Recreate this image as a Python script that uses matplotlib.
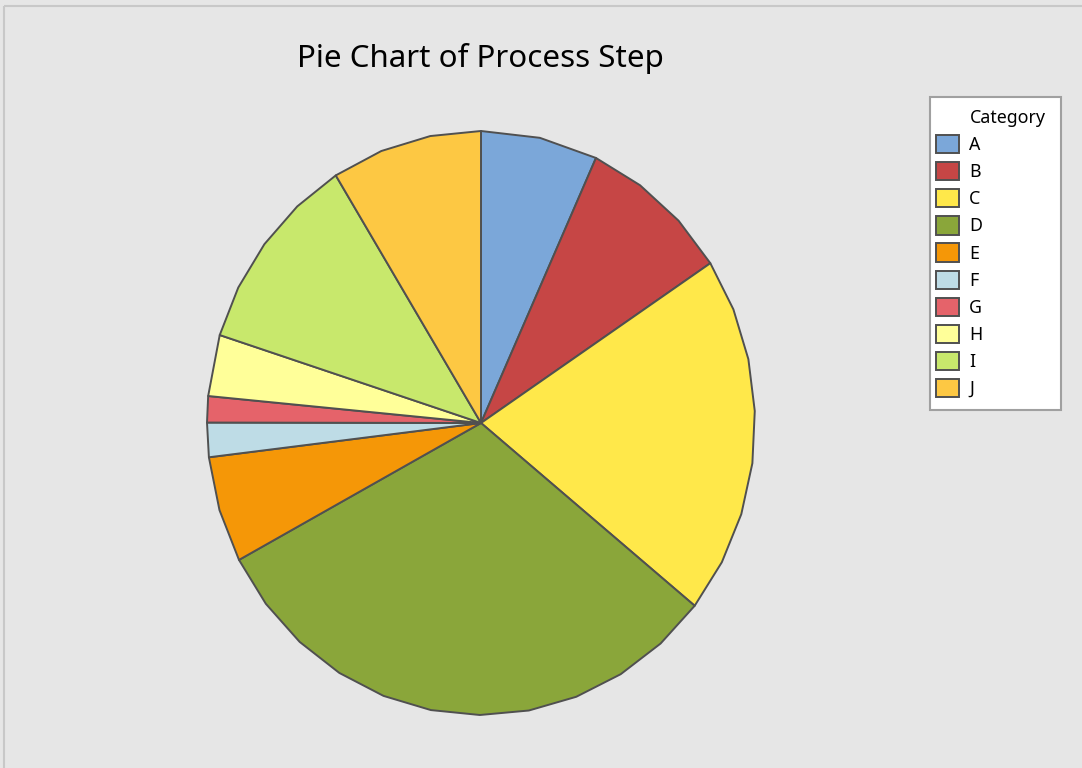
import numpy as np
import matplotlib
matplotlib.use("Agg")
import matplotlib.pyplot as plt
from matplotlib.patches import Patch, Rectangle

# values (percent of total), clockwise from 12 o'clock
categories = ["A", "B", "C", "D", "E", "F", "G", "H", "I", "J"]
values = [6.9, 8.9, 20.0, 31.5, 5.9, 1.9, 1.45, 3.4, 11.25, 8.9]
colors = ["#7BA7D9", "#C64645", "#FFE84A", "#8AA63A", "#F59707",
          "#BEDCE6", "#E5636A", "#FFFF99", "#C8E86C", "#FDC843"]

plt.rcParams["font.family"] = ["Noto Sans", "DejaVu Sans"]

W, H = 1082, 768
fig = plt.figure(figsize=(W / 100, H / 100), dpi=100, facecolor="#E6E6E6")
ax = fig.add_axes([0, 0, 1, 1])
ax.set_xlim(0, W)
ax.set_ylim(H, 0)
ax.axis("off")

# outer frame
ax.add_patch(Rectangle((4, 6), W, H, facecolor="none", edgecolor="#C8C8C8", lw=1.5))

# pie (Minitab draws it as a polygon, slightly taller than wide)
cx, cy, rx, ry = 481, 423, 274, 292
total = sum(values)
start = 0.0
for v, c in zip(values, colors):
    span = 360.0 * v / total
    n = max(1, int(round(span / 10)))
    t = np.radians(np.linspace(start, start + span, n + 1))
    xs = np.concatenate([[cx], cx + rx * np.sin(t)])
    ys = np.concatenate([[cy], cy - ry * np.cos(t)])
    ax.fill(xs, ys, facecolor=c, edgecolor="#505050", lw=1.4, joinstyle="round")
    start += span

ax.text(480, 58, "Pie Chart of Process Step", fontsize=22.5, ha="center", va="center",
        fontweight="medium")

# legend
ax.add_patch(Rectangle((930, 97), 131, 313, facecolor="white", edgecolor="#A0A0A0", lw=1.5))
ax.text(970, 118, "Category", fontsize=12.8, ha="left", va="center", fontweight="medium")
handles = [Patch(facecolor=c, edgecolor="#505050", lw=1.4) for c in colors]
fig.legend(handles, categories, loc="upper left",
           bbox_to_anchor=(936 / W, 1 - 135 / H), frameon=False,
           prop={"size": 12.8, "weight": "medium"}, handlelength=1.3, handleheight=1.2,
           labelspacing=0.45, handletextpad=0.55, borderpad=0, borderaxespad=0)

plt.savefig("out.png", dpi=100, facecolor=fig.get_facecolor())
